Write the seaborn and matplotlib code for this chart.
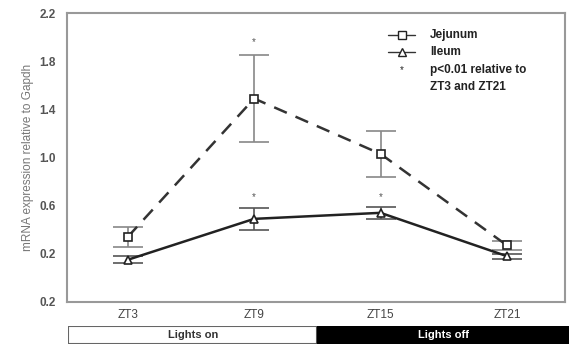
import matplotlib
matplotlib.use("Agg")
import matplotlib.pyplot as plt
import seaborn as sns
import pandas as pd
import numpy as np

categories = ["ZT3", "ZT9", "ZT15", "ZT21"]
jejunum = [0.34, 1.49, 1.03, 0.27]
jejunum_err = [0.08, 0.36, 0.19, 0.04]
ileum = [0.15, 0.49, 0.54, 0.18]
ileum_err = [0.03, 0.09, 0.05, 0.02]
star_pos = [(1, 1.96), (1, 0.67), (2, 0.67)]
yticks = [-0.2, 0.2, 0.6, 1.0, 1.4, 1.8, 2.2]
ytick_labels = ["0.2", "0.2", "0.6", "1.0", "1.4", "1.8", "2.2"]

sns.set_theme(style="white")
plt.rcParams['font.family'] = ['Liberation Sans', 'DejaVu Sans']

fig = plt.figure(figsize=(5.69, 3.45), dpi=100)
ax = fig.add_axes([0.118, 0.125, 0.875, 0.837])

x = np.arange(len(categories))
df = pd.DataFrame({"x": np.concatenate([x, x]),
                   "y": jejunum + ileum,
                   "tissue": ["Jejunum"] * 4 + ["Ileum"] * 4})

grey = "#888888"
ax.errorbar(x, jejunum, yerr=jejunum_err, fmt="none", ecolor=grey, elinewidth=1.2,
            capsize=11, capthick=1.2, zorder=1)
ax.errorbar(x, ileum, yerr=ileum_err, fmt="none", ecolor="#555555", elinewidth=1.2,
            capsize=11, capthick=1.2, zorder=1)

sns.lineplot(data=df[df.tissue == "Jejunum"], x="x", y="y", ax=ax, color="#333333",
             linewidth=1.8, marker="s", markersize=6, markerfacecolor="white",
             markeredgecolor="#222222", markeredgewidth=1.2, legend=False,
             zorder=3)
ax.lines[-1].set_dashes([5.5, 3.8])
sns.lineplot(data=df[df.tissue == "Ileum"], x="x", y="y", ax=ax, color="#222222",
             linewidth=1.8, marker="^", markersize=6, markerfacecolor="white",
             markeredgecolor="#222222", markeredgewidth=1.2, legend=False, zorder=3)

for sx, sy in star_pos:
    ax.text(sx, sy, "*", ha="center", va="center", fontsize=7, color="#555555")

ax.set_xlim(-0.48, 3.46)
ax.set_ylim(-0.2, 2.2)
ax.set_yticks(yticks)
ax.set_yticklabels(ytick_labels, fontsize=8.5, fontweight="bold", color="#555555")
ax.set_xticks(x)
ax.set_xticklabels(categories, fontsize=8.5, color="#444444")
ax.tick_params(axis="y", length=0, pad=8)
ax.tick_params(axis="x", length=0, pad=5)
ax.set_xlabel("")
ax.set_ylabel("mRNA expression relative to Gapdh", fontsize=8.5, color="#777777", labelpad=4)
for s in ax.spines.values():
    s.set_color("#999999")
    s.set_linewidth(1.5)

# legend drawn manually in axes coordinates
lx0, lx1, tx = 0.645, 0.699, 0.729
rows = [0.924, 0.865, 0.803, 0.744]
ax.plot([lx0, lx1], [rows[0]] * 2, transform=ax.transAxes, color="#333333", lw=1)
ax.plot([(lx0 + lx1) / 2], [rows[0]], transform=ax.transAxes, marker="s", ms=6,
        mfc="white", mec="#222222", mew=1)
ax.text(tx, rows[0], "Jejunum", transform=ax.transAxes, va="center", fontsize=8.5, fontweight="bold", color="#222222")
ax.plot([lx0, lx1], [rows[1]] * 2, transform=ax.transAxes, color="#333333", lw=1)
ax.plot([(lx0 + lx1) / 2], [rows[1]], transform=ax.transAxes, marker="^", ms=6,
        mfc="white", mec="#222222", mew=1)
ax.text(tx, rows[1], "Ileum", transform=ax.transAxes, va="center", fontsize=8.5, fontweight="bold", color="#222222")
ax.text((lx0 + lx1) / 2, rows[2], "*", transform=ax.transAxes, ha="center", va="center", fontsize=7)
ax.text(tx, rows[2], "p<0.01 relative to", transform=ax.transAxes, va="center", fontsize=8.5, fontweight="bold", color="#222222")
ax.text(tx, rows[3], "ZT3 and ZT21", transform=ax.transAxes, va="center", fontsize=8.5, fontweight="bold", color="#222222")

# lights bar
bax = fig.add_axes([0.119, 0.003, 0.881, 0.052])
bax.set_xlim(0, 1)
bax.set_ylim(0, 1)
bax.add_patch(plt.Rectangle((0, 0), 0.4965, 1, facecolor="white", edgecolor="#666666", lw=1.5))
bax.add_patch(plt.Rectangle((0.4965, 0), 0.5035, 1, facecolor="black", edgecolor="black", lw=1))
bax.text(0.25, 0.5, "Lights on", ha="center", va="center", fontsize=8, fontweight="bold", color="#333333")
bax.text(0.75, 0.5, "Lights off", ha="center", va="center", fontsize=8, fontweight="bold", color="white")
bax.axis("off")

fig.savefig("out.png", dpi=100)
